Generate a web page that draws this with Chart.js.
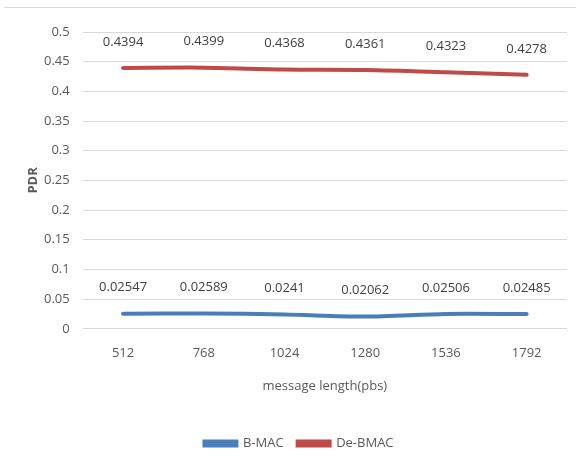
<!DOCTYPE html>
<html>
<head>
<meta charset="utf-8">
<script src="https://cdn.jsdelivr.net/npm/chart.js@4/dist/chart.umd.min.js"></script>
<style>
  html, body { margin: 0; padding: 0; background: #fff; }
  #wrap { width: 576px; height: 472px; position: relative; }
</style>
</head>
<body>
<div id="wrap"><canvas id="c" width="576" height="472"></canvas></div>
<script>
const messageLengths = ['512', '768', '1024', '1280', '1536', '1792'];
const bmacPdr = [0.02547, 0.02589, 0.0241, 0.02062, 0.02506, 0.02485];
const debmacPdr = [0.4394, 0.4399, 0.4368, 0.4361, 0.4323, 0.4278];
const bmacLabels = ['0.02547', '0.02589', '0.0241', '0.02062', '0.02506', '0.02485'];
const debmacLabels = ['0.4394', '0.4399', '0.4368', '0.4361', '0.4323', '0.4278'];
const yTitle = 'PDR';

const FONT = "'Open Sans', sans-serif";
const TEXT = '#595959';

// background, thin rule across the top of the frame, and the vertical axis title
const frame = {
  id: 'frame',
  beforeDraw(chart) {
    const ctx = chart.ctx;
    ctx.save();
    ctx.fillStyle = '#ffffff';
    ctx.fillRect(0, 0, chart.width, chart.height);
    ctx.strokeStyle = '#d9d9d9';
    ctx.lineWidth = 1;
    ctx.beginPath();
    ctx.moveTo(4, 7.5);
    ctx.lineTo(chart.width, 7.5);
    ctx.stroke();
    const a = chart.chartArea;
    ctx.translate(33, (a.top + a.bottom) / 2);
    ctx.rotate(-Math.PI / 2);
    ctx.font = 'bold 13px ' + FONT;
    ctx.fillStyle = TEXT;
    ctx.textAlign = 'center';
    ctx.textBaseline = 'middle';
    ctx.fillText(yTitle, 0, 0);
    ctx.restore();
  }
};

// value labels above each point
const valueLabels = {
  id: 'valueLabels',
  afterDatasetsDraw(chart) {
    const ctx = chart.ctx;
    const texts = [bmacLabels, debmacLabels];
    ctx.save();
    ctx.font = '13px ' + FONT;
    ctx.fillStyle = '#404040';
    ctx.textAlign = 'center';
    ctx.textBaseline = 'middle';
    chart.data.datasets.forEach((ds, i) => {
      chart.getDatasetMeta(i).data.forEach((pt, j) => {
        ctx.fillText(texts[i][j], pt.x, pt.y - 26);
      });
    });
    ctx.restore();
  }
};

new Chart(document.getElementById('c'), {
  type: 'line',
  data: {
    labels: messageLengths,
    datasets: [
      {
        label: 'B-MAC',
        data: bmacPdr,
        borderColor: '#4a7ebb',
        backgroundColor: '#4a7ebb',
        borderWidth: 4,
        tension: 0.3,
        pointRadius: 0,
        borderCapStyle: 'round'
      },
      {
        label: 'De-BMAC',
        data: debmacPdr,
        borderColor: '#be4b48',
        backgroundColor: '#be4b48',
        borderWidth: 4,
        tension: 0.3,
        pointRadius: 0,
        borderCapStyle: 'round'
      }
    ]
  },
  options: {
    responsive: false,
    animation: false,
    devicePixelRatio: 1,
    layout: { padding: { top: 32, left: 31, right: 9, bottom: 12 } },
    plugins: {
      legend: {
        position: 'bottom',
        labels: {
          font: { family: FONT, size: 13 },
          color: TEXT,
          boxWidth: 32,
          boxHeight: 4,
          padding: 14
        }
      },
      tooltip: { enabled: false }
    },
    scales: {
      x: {
        offset: true,
        grid: { display: false, drawTicks: false },
        border: { display: false },
        ticks: { font: { family: FONT, size: 13 }, color: TEXT, padding: 17 },
        title: {
          display: true,
          text: 'message length(pbs)',
          font: { family: FONT, size: 13 },
          color: TEXT,
          padding: { top: 0, bottom: 29 }
        }
      },
      y: {
        min: 0,
        max: 0.5,
        grid: { color: '#d9d9d9', drawTicks: false },
        border: { display: false },
        ticks: {
          stepSize: 0.05,
          font: { family: FONT, size: 13 },
          color: TEXT,
          padding: 13,
          callback: v => String(Math.round(v * 100) / 100)
        }
      }
    }
  },
  plugins: [frame, valueLabels]
});
</script>
</body>
</html>
